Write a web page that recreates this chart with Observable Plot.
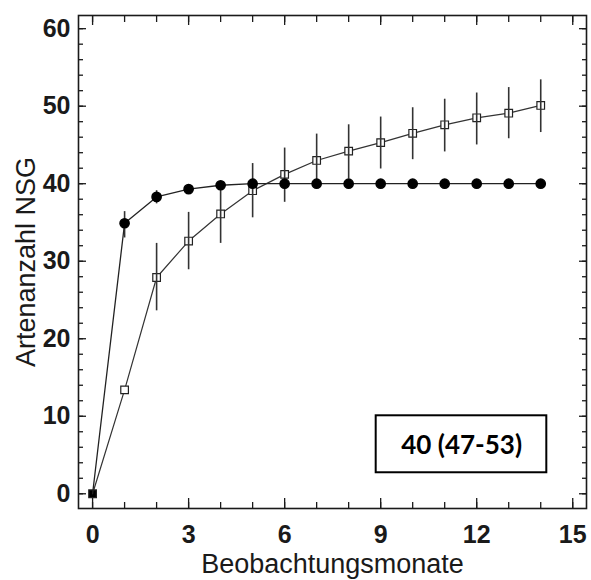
<!DOCTYPE html>
<html>
<head>
<meta charset="utf-8">
<script src="https://cdn.jsdelivr.net/npm/d3@7"></script>
<script src="https://cdn.jsdelivr.net/npm/@observablehq/plot@0.6"></script>
<style>
  html, body { margin: 0; padding: 0; background: #fff; }
</style>
</head>
<body>
<div id="chart"></div>
<script>
// Data
const months = [0, 1, 2, 3, 4, 5, 6, 7, 8, 9, 10, 11, 12, 13, 14];
const circleMean = [0, 34.9, 38.3, 39.3, 39.8, 40, 40, 40, 40, 40, 40, 40, 40, 40, 40];
const circleLow  = [null, 33.0, 37.4, null, null, null, null, null, null, null, null, null, null, null, null];
const circleHigh = [null, 36.4, 39.1, null, null, null, null, null, null, null, null, null, null, null, null];
const squareMean = [0, 13.4, 27.9, 32.6, 36.1, 39.1, 41.2, 43.0, 44.2, 45.3, 46.5, 47.6, 48.5, 49.1, 50.1];
const squareLow  = [null, null, 23.6, 28.9, 32.3, 35.6, 37.6, 39.6, 40.6, 41.9, 43.1, 44.1, 45.0, 45.8, 46.6];
const squareHigh = [null, null, 32.3, 36.3, 39.9, 42.6, 44.6, 46.4, 47.6, 48.6, 49.8, 50.9, 51.7, 52.4, 53.4];

const xTickLabels = [0, 3, 6, 9, 12, 15];
const xMinorTicks = [0,1,2,3,4,5,6,7,8,9,10,11,12,13,14,15];
const yTickLabels = [0, 10, 20, 30, 40, 50, 60];
const yMinorTicks = d3.range(0, 61, 2);

const xTitle = "Beobachtungsmonate";
const yTitle = "Artenanzahl NSG";
const annotation = [{label: "40 (47-53)", x1: 8.86, x2: 14.19, y1: 2.71, y2: 10.06, x: 11.53, y: 6.2}];

const circles = months.map((m, i) => ({x: m, y: circleMean[i], lo: circleLow[i], hi: circleHigh[i]}));
const squares = months.map((m, i) => ({x: m, y: squareMean[i], lo: squareLow[i], hi: squareHigh[i]}));
const circleBars = circles.filter(d => d.lo != null);
const squareBars = squares.filter(d => d.lo != null);

const ink = "#1a1a1a";
const tickFont = "'Liberation Sans', Arial, sans-serif";

const chart = Plot.plot({
  width: 591,
  height: 580,
  marginLeft: 78,
  marginRight: 5,
  marginTop: 15,
  marginBottom: 72,
  style: {fontFamily: tickFont, fontSize: "24px", color: ink, background: "#fff"},
  x: {domain: [-0.44, 15.43]},
  y: {domain: [-1.9, 61.7]},
  marks: [
    // tick marks pointing inward, all four sides
    Plot.axisX(xMinorTicks, {anchor: "bottom", tickSize: -6, tickFormat: () => "", label: null, stroke: ink, strokeWidth: 1.3}),
    Plot.axisX(xTickLabels, {anchor: "bottom", tickSize: -10, tickFormat: () => "", label: null, stroke: ink, strokeWidth: 1.3}),
    Plot.axisX(xMinorTicks, {anchor: "top", tickSize: -6, tickFormat: () => "", label: null, stroke: ink, strokeWidth: 1.3}),
    Plot.axisX(xTickLabels, {anchor: "top", tickSize: -9, tickFormat: () => "", label: null, stroke: ink, strokeWidth: 1.3}),
    Plot.axisY(yMinorTicks, {anchor: "left", tickSize: -5, tickFormat: () => "", label: null, stroke: ink, strokeWidth: 1.3}),
    Plot.axisY(yTickLabels, {anchor: "left", tickSize: -8, tickFormat: () => "", label: null, stroke: ink, strokeWidth: 1.3}),
    Plot.axisY(yMinorTicks, {anchor: "right", tickSize: -5, tickFormat: () => "", label: null, stroke: ink, strokeWidth: 1.3}),
    Plot.axisY(yTickLabels, {anchor: "right", tickSize: -8, tickFormat: () => "", label: null, stroke: ink, strokeWidth: 1.3}),
    // tick labels
    Plot.axisX(xTickLabels, {anchor: "bottom", tickSize: 0, tickPadding: 17, label: null, fontWeight: "bold", fontSize: 25, fill: ink}),
    Plot.axisY(yTickLabels, {anchor: "left", tickSize: 0, tickPadding: 8, label: null, fontWeight: "bold", fontSize: 25, fill: ink}),
    // axis titles
    Plot.text([xTitle], {frameAnchor: "bottom", text: d => d, dy: 56, textAnchor: "middle", lineAnchor: "middle", fontSize: 27, fill: ink}),
    Plot.text([yTitle], {frameAnchor: "left", text: d => d, rotate: -90, dx: -52, textAnchor: "middle", lineAnchor: "middle", fontSize: 27, fill: ink}),
    Plot.frame({stroke: ink, strokeWidth: 1.6}),
    // annotation box
    Plot.rect(annotation, {x1: "x1", x2: "x2", y1: "y1", y2: "y2", fill: "white", stroke: "#000", strokeWidth: 2}),
    Plot.text(annotation, {x: "x", y: "y", text: "label", fontFamily: "Lato, 'Open Sans', sans-serif", fontWeight: "bold", fontSize: 26, fill: "#000", lineAnchor: "middle"}),
    // open squares series
    Plot.line(squares, {x: "x", y: "y", stroke: "#333", strokeWidth: 1.2}),
    Plot.dot(squares, {x: "x", y: "y", symbol: "square", r: 4.3, fill: d => d.x === 0 ? "#000" : "#fff", stroke: "#222", strokeWidth: 1.2}),
    Plot.ruleX(squareBars, {x: "x", y1: "lo", y2: "hi", stroke: "#333", strokeWidth: 1.6}),
    // filled circles series
    Plot.line(circles, {x: "x", y: "y", stroke: "#222", strokeWidth: 1.3}),
    Plot.ruleX(circleBars, {x: "x", y1: "lo", y2: "hi", stroke: "#333", strokeWidth: 1.6}),
    Plot.dot(circles.filter(d => d.x > 0), {x: "x", y: "y", r: 4.6, fill: "#000", stroke: "#000"})
  ]
});
document.getElementById("chart").appendChild(chart);
</script>
</body>
</html>
